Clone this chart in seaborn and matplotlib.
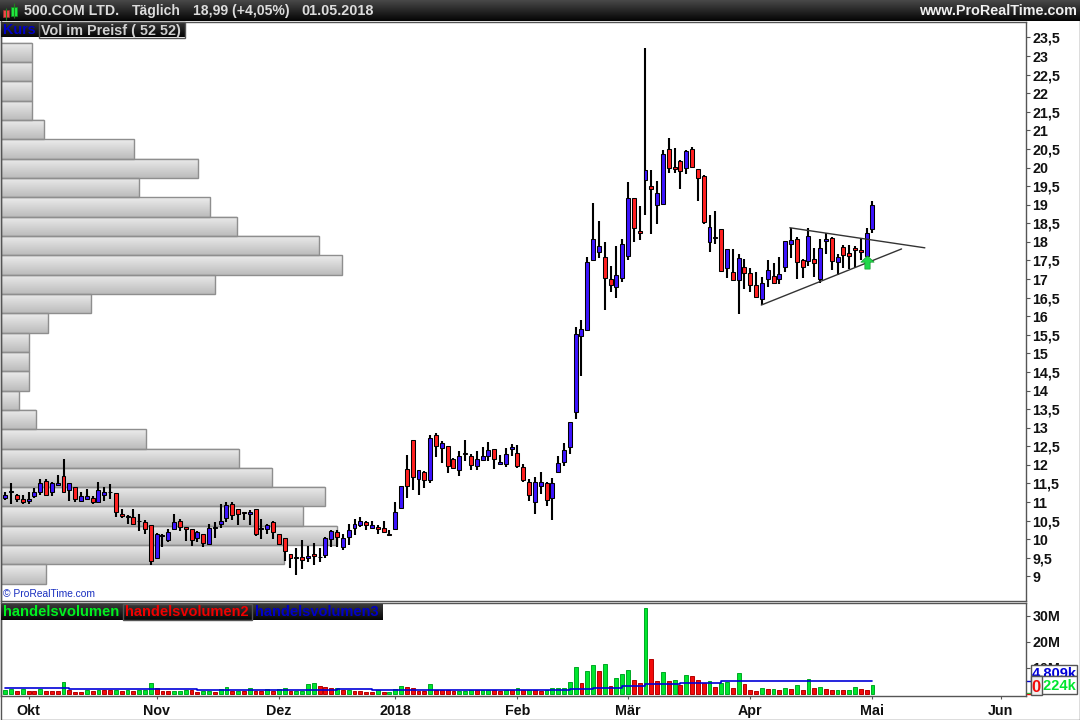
import numpy as np
import pandas as pd
import matplotlib
matplotlib.use("Agg")
import matplotlib.pyplot as plt
from matplotlib.colors import LinearSegmentedColormap
from matplotlib.patches import Rectangle
from matplotlib.lines import Line2D
import seaborn as sns

sns.set_theme(style="white")
plt.rcParams['font.family'] = ['Liberation Sans', 'DejaVu Sans']

# ----- candles (trading days, one row per candle: open, high, low, close) -----
candles = [
    (11.11,11.27,11.05,11.20),(11.28,11.50,10.96,11.30),(11.19,11.21,11.00,11.08),(11.08,11.18,10.96,11.00),
    (11.03,11.26,10.96,11.09),(11.17,11.39,11.12,11.26),(11.26,11.61,11.20,11.52),(11.57,11.63,11.18,11.20),
    (11.26,11.54,11.17,11.50),(11.47,11.72,11.43,11.52),(11.71,12.15,11.23,11.28),(11.33,11.52,11.03,11.50),
    (11.41,11.41,11.00,11.09),(11.04,11.26,11.03,11.15),(11.09,11.36,11.05,11.17),(11.12,11.17,10.96,10.99),
    (10.99,11.55,10.98,11.33),(11.20,11.41,11.03,11.26),(11.26,11.48,11.08,11.27),(11.23,11.23,10.60,10.72),
    (10.69,10.82,10.58,10.63),(10.63,10.64,10.41,10.61),(10.60,10.82,10.41,10.42),(10.50,10.69,10.22,10.48),
    (10.47,10.51,10.15,10.28),(10.38,10.39,9.31,9.42),(9.50,10.17,9.49,10.15),(10.08,10.15,9.79,10.10),
    (9.97,10.28,9.93,10.20),(10.28,10.69,10.24,10.45),(10.50,10.54,10.22,10.33),(10.33,10.33,9.94,10.28),
    (10.28,10.28,9.82,9.98),(10.02,10.22,9.93,10.20),(10.14,10.15,9.79,9.91),(9.87,10.42,9.83,10.30),
    (10.31,10.46,10.03,10.33),(10.42,10.96,10.30,10.50),(10.58,11.01,10.46,10.93),(10.96,10.99,10.51,10.66),
    (10.80,10.81,10.37,10.69),(10.72,10.72,10.51,10.70),(10.69,10.78,10.37,10.74),(10.82,10.82,10.09,10.14),
    (10.28,10.55,10.00,10.30),(10.28,10.42,10.15,10.37),(10.45,10.50,10.00,10.20),(10.15,10.15,9.85,9.87),
    (10.02,10.02,9.41,9.67),(9.61,9.61,9.22,9.50),(9.52,9.75,9.04,9.50),(9.53,9.99,9.19,9.44),
    (9.49,9.81,9.39,9.56),(9.61,9.91,9.30,9.56),(9.51,9.75,9.39,9.53),(9.57,10.06,9.49,10.02),
    (10.01,10.24,9.79,10.22),(10.20,10.24,9.79,10.05),(9.80,10.15,9.70,10.02),(10.07,10.42,9.84,10.26),
    (10.30,10.55,10.10,10.42),(10.37,10.60,10.33,10.49),(10.45,10.49,10.24,10.38),(10.30,10.49,10.28,10.37),
    (10.34,10.39,10.13,10.28),(10.31,10.50,10.19,10.19),(10.15,10.24,10.10,10.12),(10.28,10.99,10.28,10.74),
    (10.84,11.44,10.84,11.44),(11.90,12.26,11.11,11.43),(12.66,12.66,11.32,11.68),(11.62,11.85,11.18,11.85),
    (11.82,11.83,11.37,11.60),(11.60,12.80,11.52,12.71),(12.79,12.87,12.22,12.51),(12.46,12.64,12.05,12.58),
    (12.52,12.52,11.79,11.96),(12.17,12.19,11.88,11.91),(11.87,12.37,11.70,12.25),(12.33,12.67,12.10,12.28),
    (12.23,12.28,11.86,12.00),(11.97,12.37,11.86,12.17),(12.14,12.48,12.10,12.25),(12.24,12.61,12.10,12.39),
    (12.44,12.44,11.88,12.16),(12.01,12.26,11.99,12.09),(12.03,12.45,11.94,12.28),(12.43,12.56,12.23,12.49),
    (12.33,12.53,11.91,11.97),(11.93,12.01,11.54,11.60),(11.55,11.61,11.02,11.19),(10.99,11.66,10.67,11.55),
    (11.43,11.80,11.21,11.55),(11.52,11.55,10.89,11.06),(11.11,11.64,10.51,11.52),(11.81,12.23,11.79,12.06),
    (12.08,12.60,11.97,12.39),(12.49,13.14,12.29,13.14),(13.41,15.70,13.23,15.51),(15.48,15.90,14.40,15.65),
    (15.64,17.59,15.61,17.46),(17.51,19.05,17.51,18.07),(17.74,18.56,17.57,17.89),(17.59,18.00,16.17,17.02),
    (16.99,17.36,16.66,16.83),(16.78,17.90,16.50,17.10),(17.04,18.07,16.91,17.94),(17.62,19.61,17.50,19.18),
    (19.18,19.18,18.01,18.37),(18.29,18.97,18.04,18.23),(19.67,23.22,18.73,19.94),(19.50,19.94,18.20,19.41),
    (18.99,19.65,18.49,19.31),(19.01,20.47,18.98,20.37),(20.50,20.80,19.84,19.99),(20.02,20.53,19.86,19.96),
    (20.18,20.20,19.43,19.91),(19.99,20.47,19.82,20.45),(20.50,20.55,20.02,20.02),(19.96,19.96,19.09,19.72),
    (19.77,19.80,18.47,18.53),(17.99,18.72,17.72,18.40),(18.13,18.83,17.93,18.10),(18.35,18.35,17.18,17.21),
    (17.29,17.81,17.04,17.81),(17.19,17.81,16.97,16.97),(16.97,17.67,16.07,17.56),(17.32,17.54,16.72,17.16),
    (17.16,17.29,16.64,16.83),(16.83,17.19,16.51,16.51),(16.46,17.05,16.30,16.89),(17.00,17.51,16.78,17.24),
    (17.08,17.43,16.86,16.89),(17.00,17.59,16.86,17.13),(17.32,18.02,17.18,18.02),(17.94,18.37,17.56,18.05),
    (18.07,18.13,17.00,17.46),(17.51,17.54,17.03,17.32),(17.48,18.37,17.34,18.16),(17.54,17.83,17.05,17.43),
    (17.00,18.07,16.89,17.83),(18.02,18.24,17.68,18.07),(18.10,18.13,17.25,17.48),(17.46,17.68,17.11,17.59),
    (17.86,17.91,17.29,17.64),(17.70,17.91,17.27,17.61),(17.83,17.88,17.29,17.78),(17.78,18.10,17.52,17.72),
    (17.63,18.37,17.43,18.24),(18.34,19.11,18.24,18.99),
]

# ----- volume in millions, with the colour of each bar -----
volume_m = [
    1.4,1.9,0.8,1.9,1.1,1.1,1.9,1.1,1.1,1.1,4.4,1.5,0.6,0.6,1.4,1.1,1.5,1.5,1.5,1.5,
    1.0,1.4,1.1,1.5,1.5,4.0,2.1,1.0,1.0,1.0,1.0,1.5,1.5,0.6,1.1,1.1,0.6,1.8,2.5,1.1,
    1.1,1.1,2.1,1.1,1.1,1.8,1.1,1.8,2.1,1.1,1.1,1.1,3.6,4.0,2.9,2.5,2.1,2.1,1.4,1.4,
    1.1,1.1,0.6,0.6,1.4,0.6,0.6,1.8,2.8,2.4,2.0,1.0,1.0,3.5,1.5,1.5,1.3,1.0,1.0,1.0,
    1.5,1.3,1.5,1.5,1.3,0.8,1.5,1.3,2.0,1.5,1.5,1.5,0.9,1.5,2.0,2.0,2.0,4.3,10.1,4.0,
    8.6,10.9,8.6,11.6,2.9,5.9,7.5,9.0,5.2,4.0,33.0,13.4,4.8,8.2,4.8,5.2,3.3,7.1,6.7,5.2,
    4.0,4.8,2.5,4.0,4.4,2.2,7.8,3.7,1.4,1.0,2.2,1.8,1.8,1.4,2.2,1.8,3.4,1.4,5.8,2.2,
    2.6,1.8,1.2,1.4,1.2,1.4,2.6,1.8,1.4,3.4,
]
volume_dir = [
    'g','g','r','g','r','r','g','r','r','r','g','r','r','r','g','r','g','r','r','g',
    'r','g','r','g','g','g','r','r','r','g','g','g','r','r','g','g','r','g','g','r',
    'g','r','g','r','r','g','r','g','g','r','g','g','g','g','r','r','r','g','r','g',
    'r','r','r','r','g','r','g','g','g','r','r','r','r','g','r','r','r','r','g','g',
    'g','r','g','g','r','r','g','r','g','r','g','r','r','g','g','g','g','g','g','r',
    'g','g','r','g','r','g','g','g','r','r','g','r','r','g','r','g','r','g','r','r',
    'r','g','r','g','g','r','g','r','r','r','g','r','g','r','g','r','g','r','g','r',
    'g','r','r','g','r','g','g','r','r','g',
]

# moving average of volume, read as steps: first trading day of a step and its level
avg_vol_day = [0, 8, 11, 33, 57, 63, 72, 78, 97, 101, 106, 110, 116, 123, 149]
avg_vol_level = [2.1, 2.0, 1.8, 1.4, 1.6, 1.3, 1.5, 1.5, 1.6, 2.3, 2.8, 3.5, 4.0, 4.809, 4.809]

# ----- volume at price -----
profile_price = [23.10, 22.58, 22.06, 21.54, 21.02, 20.50, 19.98, 19.46, 18.94, 18.42,
                 17.90, 17.38, 16.86, 16.34, 15.82, 15.30, 14.78, 14.26, 13.74, 13.22,
                 12.70, 12.18, 11.66, 11.14, 10.62, 10.10, 9.58, 9.06]
profile_vol = [32, 32, 32, 32, 44.5, 134.7, 198.7, 139.5, 210.7, 237.5,
               319.5, 342.5, 215.5, 91.7, 48.5, 29, 29, 29, 19.5, 36.5,
               146, 239.5, 272, 325, 303.5, 337, 284, 46.7]

# ----- trend lines and signal -----
trend_upper_day = [134.8, 158.0]
trend_upper_price = [18.38, 17.84]
trend_lower_day = [129.9, 154.0]
trend_lower_price = [16.30, 17.81]
signal_day = [148]
signal_price = [17.47]

# ----- ticks -----
month_days = [4, 26, 47, 67, 88, 107, 128, 149, 171]
month_labels = ['Okt', 'Nov', 'Dez', '2018', 'Feb', 'Mär', 'Apr', 'Mai', 'Jun']
price_ticks = [9, 9.5, 10, 10.5, 11, 11.5, 12, 12.5, 13, 13.5, 14, 14.5, 15, 15.5, 16,
               16.5, 17, 17.5, 18, 18.5, 19, 19.5, 20, 20.5, 21, 21.5, 22, 22.5, 23, 23.5]
volume_ticks = [10, 20, 30]
volume_tick_labels = ['10M', '20M', '30M']

W, H = 1080, 720
GREY = '#555555'
CANDLE_BLUE = '#3c14ff'
CANDLE_RED = '#ff2020'


def px_rect(x0, y0, x1, y1):
    # left, bottom, width, height in figure fractions from pixel corners
    return [x0 / W, 1 - y1 / H, (x1 - x0) / W, (y1 - y0) / H]


def px_text(x, y, s, **kw):
    kw.setdefault('fontweight', 'bold')
    kw.setdefault('va', 'center')
    return fig.text(x / W, 1 - y / H, s, **kw)


def px_box(x0, y0, x1, y1, face, edge=GREY, lw=1.0, zorder=4):
    l, b, w, h = px_rect(x0, y0, x1, y1)
    fig.add_artist(Rectangle((l, b), w, h, transform=fig.transFigure, facecolor=face,
                             edgecolor=edge, linewidth=lw, zorder=zorder))


def gradient_bar(x0, y0, x1, y1, top, bottom, zorder=5):
    a = fig.add_axes(px_rect(x0, y0, x1, y1), zorder=zorder)
    cmap = LinearSegmentedColormap.from_list('g', [top, bottom])
    a.imshow(np.linspace(0, 1, 32).reshape(-1, 1), aspect='auto', cmap=cmap)
    a.set_axis_off()
    return a


fig = plt.figure(figsize=(W / 100, H / 100), dpi=100, facecolor='white')

ohlc = pd.DataFrame(candles, columns=['open', 'high', 'low', 'close'])
ohlc['day'] = np.arange(len(ohlc))
up = ohlc['close'] >= ohlc['open']

x_lim = (-0.74, 175.38)
y_lim = (8.35, 23.93)

# ----- volume at price, behind the candles -----
prof_ax = fig.add_axes(px_rect(1, 21.5, 1026, 600.5), zorder=1)
sns.barplot(x=profile_vol, y=profile_price, orient='h', native_scale=True, width=1.0,
            color='#d8d8d8', saturation=1, errorbar=None, ax=prof_ax)
grad = LinearSegmentedColormap.from_list('prof', ['#ececec', '#bcbcbc'])
for p in prof_ax.patches:
    bb = p.get_bbox()
    prof_ax.imshow(np.linspace(0, 1, 32).reshape(-1, 1), cmap=grad, aspect='auto',
                   extent=[bb.x0, bb.x1, min(bb.y0, bb.y1), max(bb.y0, bb.y1)], zorder=1)
    p.set(facecolor='none', edgecolor='#8e8e8e', linewidth=1.0, zorder=2)
prof_ax.set_xlim(1.5, 1026.5)
prof_ax.set_ylim(*y_lim)
prof_ax.set_axis_off()

# ----- candles -----
ax = fig.add_axes(px_rect(1, 21.5, 1026, 600.5), zorder=2)
ax.patch.set_visible(False)
ax.vlines(ohlc['day'], ohlc['low'], ohlc['high'], color='black', linewidth=1.5, zorder=2)
ax.bar(ohlc['day'], (ohlc['close'] - ohlc['open']).abs(),
       bottom=ohlc[['open', 'close']].min(axis=1), width=0.68,
       color=[CANDLE_BLUE if u else CANDLE_RED for u in up],
       edgecolor='black', linewidth=0.75, zorder=3)
ax.plot(trend_upper_day, trend_upper_price, color='#333333', linewidth=1.0, zorder=4)
ax.plot(trend_lower_day, trend_lower_price, color='#333333', linewidth=1.0, zorder=4)

arrow = [(0, 1), (1, 0.05), (0.4, 0.05), (0.4, -1), (-0.4, -1), (-0.4, 0.05), (-1, 0.05), (0, 1)]
ax.scatter(signal_day, signal_price, marker=arrow, s=90, color='#22d84a',
           edgecolor='#12a030', linewidth=0.5, zorder=5)

ax.set_xlim(*x_lim)
ax.set_ylim(*y_lim)
ax.yaxis.tick_right()
ax.set_yticks(price_ticks)
ax.set_yticklabels([f'{t:g}'.replace('.', ',') for t in price_ticks], fontsize=10.3,
                   fontweight='bold', color='#111111')
ax.set_xticks([])
ax.tick_params(axis='y', right=True, length=3, width=0.8, color=GREY, pad=1.5)
for s in ax.spines.values():
    s.set_color(GREY)
    s.set_linewidth(1.0)

# ----- volume panel -----
vol = fig.add_axes(px_rect(1, 603.3, 1026, 696.3), zorder=2)
vol_df = pd.DataFrame({'day': ohlc['day'], 'volume': volume_m, 'dir': volume_dir})
sns.barplot(data=vol_df, x='day', y='volume', hue='dir', hue_order=['g', 'r'],
            palette={'g': '#00e62e', 'r': '#f20a0a'}, saturation=1, native_scale=True,
            dodge=False, width=0.66, errorbar=None, legend=False, ax=vol)
for cont, edge in zip(vol.containers, ['#00a824', '#b40000']):
    for b in cont:
        b.set_edgecolor(edge)
        b.set_linewidth(0.7)
sns.lineplot(x=avg_vol_day, y=avg_vol_level, drawstyle='steps-post', color='#0000d8',
             linewidth=1.2, errorbar=None, ax=vol, zorder=5)
vol.set_xlim(*x_lim)
vol.set_ylim(-1.08, 34.9)
vol.set_xlabel('')
vol.set_ylabel('')
vol.set_xticks(month_days)
vol.set_xticklabels(month_labels, fontsize=10.3, fontweight='bold', color='#111111')
vol.yaxis.tick_right()
vol.set_yticks(volume_ticks)
vol.set_yticklabels(volume_tick_labels, fontsize=10.3, fontweight='bold', color='#111111')
vol.tick_params(axis='x', bottom=True, length=2.5, width=0.8, color=GREY, pad=3.3)
vol.tick_params(axis='y', right=True, length=3, width=0.8, color=GREY, pad=1.5)
for s in vol.spines.values():
    s.set_color(GREY)
    s.set_linewidth(1.0)

# small coloured ticks next to the value boxes
for level, col in zip([4.809, 0.224, 0.0], ['#0000d8', '#00e62e', '#f20a0a']):
    vol.plot([1.0, 1.005], [level, level], transform=vol.get_yaxis_transform(), color=col,
             linewidth=1.0, clip_on=False)

# ----- value boxes on the volume axis -----
px_box(1030.5, 664.5, 1077, 676, 'white', zorder=4)
px_text(1054, 674.5, '4.809k', color='#0000d8', fontsize=10.5, ha='center', zorder=5)
px_box(1030.5, 675.5, 1077, 693.5, 'white', zorder=6)
px_text(1076, 686, '.224k', color='#00e62e', fontsize=10.5, ha='right', zorder=7)
px_box(1030.5, 676, 1042, 695, '#eeeeee', zorder=8)
px_text(1036.3, 687, '0', color='#f20a0a', fontsize=12, ha='center', zorder=9)

# ----- title bar and panel legends -----
gradient_bar(0, 0, W, 21, '#484848', '#050505')
px_text(23.5, 11, '500.COM LTD.', color='#dcdcdc', fontsize=10.2, zorder=6)
px_text(132, 11, 'Täglich', color='#dcdcdc', fontsize=10.1, zorder=6)
px_text(193, 11, '18,99 (+4,05%)', color='#dcdcdc', fontsize=10.1, zorder=6)
px_text(301, 11, '01.05.2018', color='#dcdcdc', fontsize=10.4, zorder=6)
px_text(1077, 11, 'www.ProRealTime.com', color='#f0f0f0', fontsize=10.4, ha='right', zorder=6)

# little candlestick icon in the title bar
icon = fig.add_axes(px_rect(0, 0, 20, 21), zorder=6)
icon.vlines([6.3, 14.2], [8, 3], [20, 18], color='#208020', linewidth=0.8)
icon.bar([6.3], [7.3], bottom=[10], width=6, color='#f04848', edgecolor='#a03030', linewidth=0.5)
icon.bar([14.2], [9], bottom=[7], width=6, color='#20e840', edgecolor='#109020', linewidth=0.5)
icon.set_xlim(0, 20)
icon.set_ylim(21, 0)
icon.set_axis_off()

gradient_bar(1, 22, 184.5, 37.5, '#3a3a3a', '#050505')
px_box(38.5, 22, 184.5, 37.5, 'none', zorder=6)
px_text(3, 30.5, 'Kurs', color='#0000c8', fontsize=10.3, zorder=6)
px_text(41, 30.5, 'Vol im Preisf ( 52 52)', color='#d0d0d0', fontsize=10.4, zorder=6)

gradient_bar(1, 604, 383, 620, '#3a3a3a', '#050505')
px_box(122.5, 604, 252.5, 620, 'none', zorder=6)
px_text(3, 612, 'handelsvolumen', color='#00f020', fontsize=10.65, zorder=6)
px_text(125, 612, 'handelsvolumen2', color='#f00000', fontsize=10.5, zorder=6)
px_text(255, 612, 'handelsvolumen3', color='#0000c8', fontsize=10.5, zorder=6)

px_text(3, 594, '© ProRealTime.com', color='#1a30c0', fontsize=7.35, fontweight='normal', zorder=6)

# outer frame of the picture
fig.add_artist(Line2D([0.5 / W, 1079.5 / W, 1079.5 / W, 0.5 / W, 0.5 / W],
                      [1 - 0.5 / H, 1 - 0.5 / H, 1 - 719.5 / H, 1 - 719.5 / H, 1 - 0.5 / H],
                      color=GREY, linewidth=1.0, zorder=3))

fig.savefig('out.png', dpi=100)
